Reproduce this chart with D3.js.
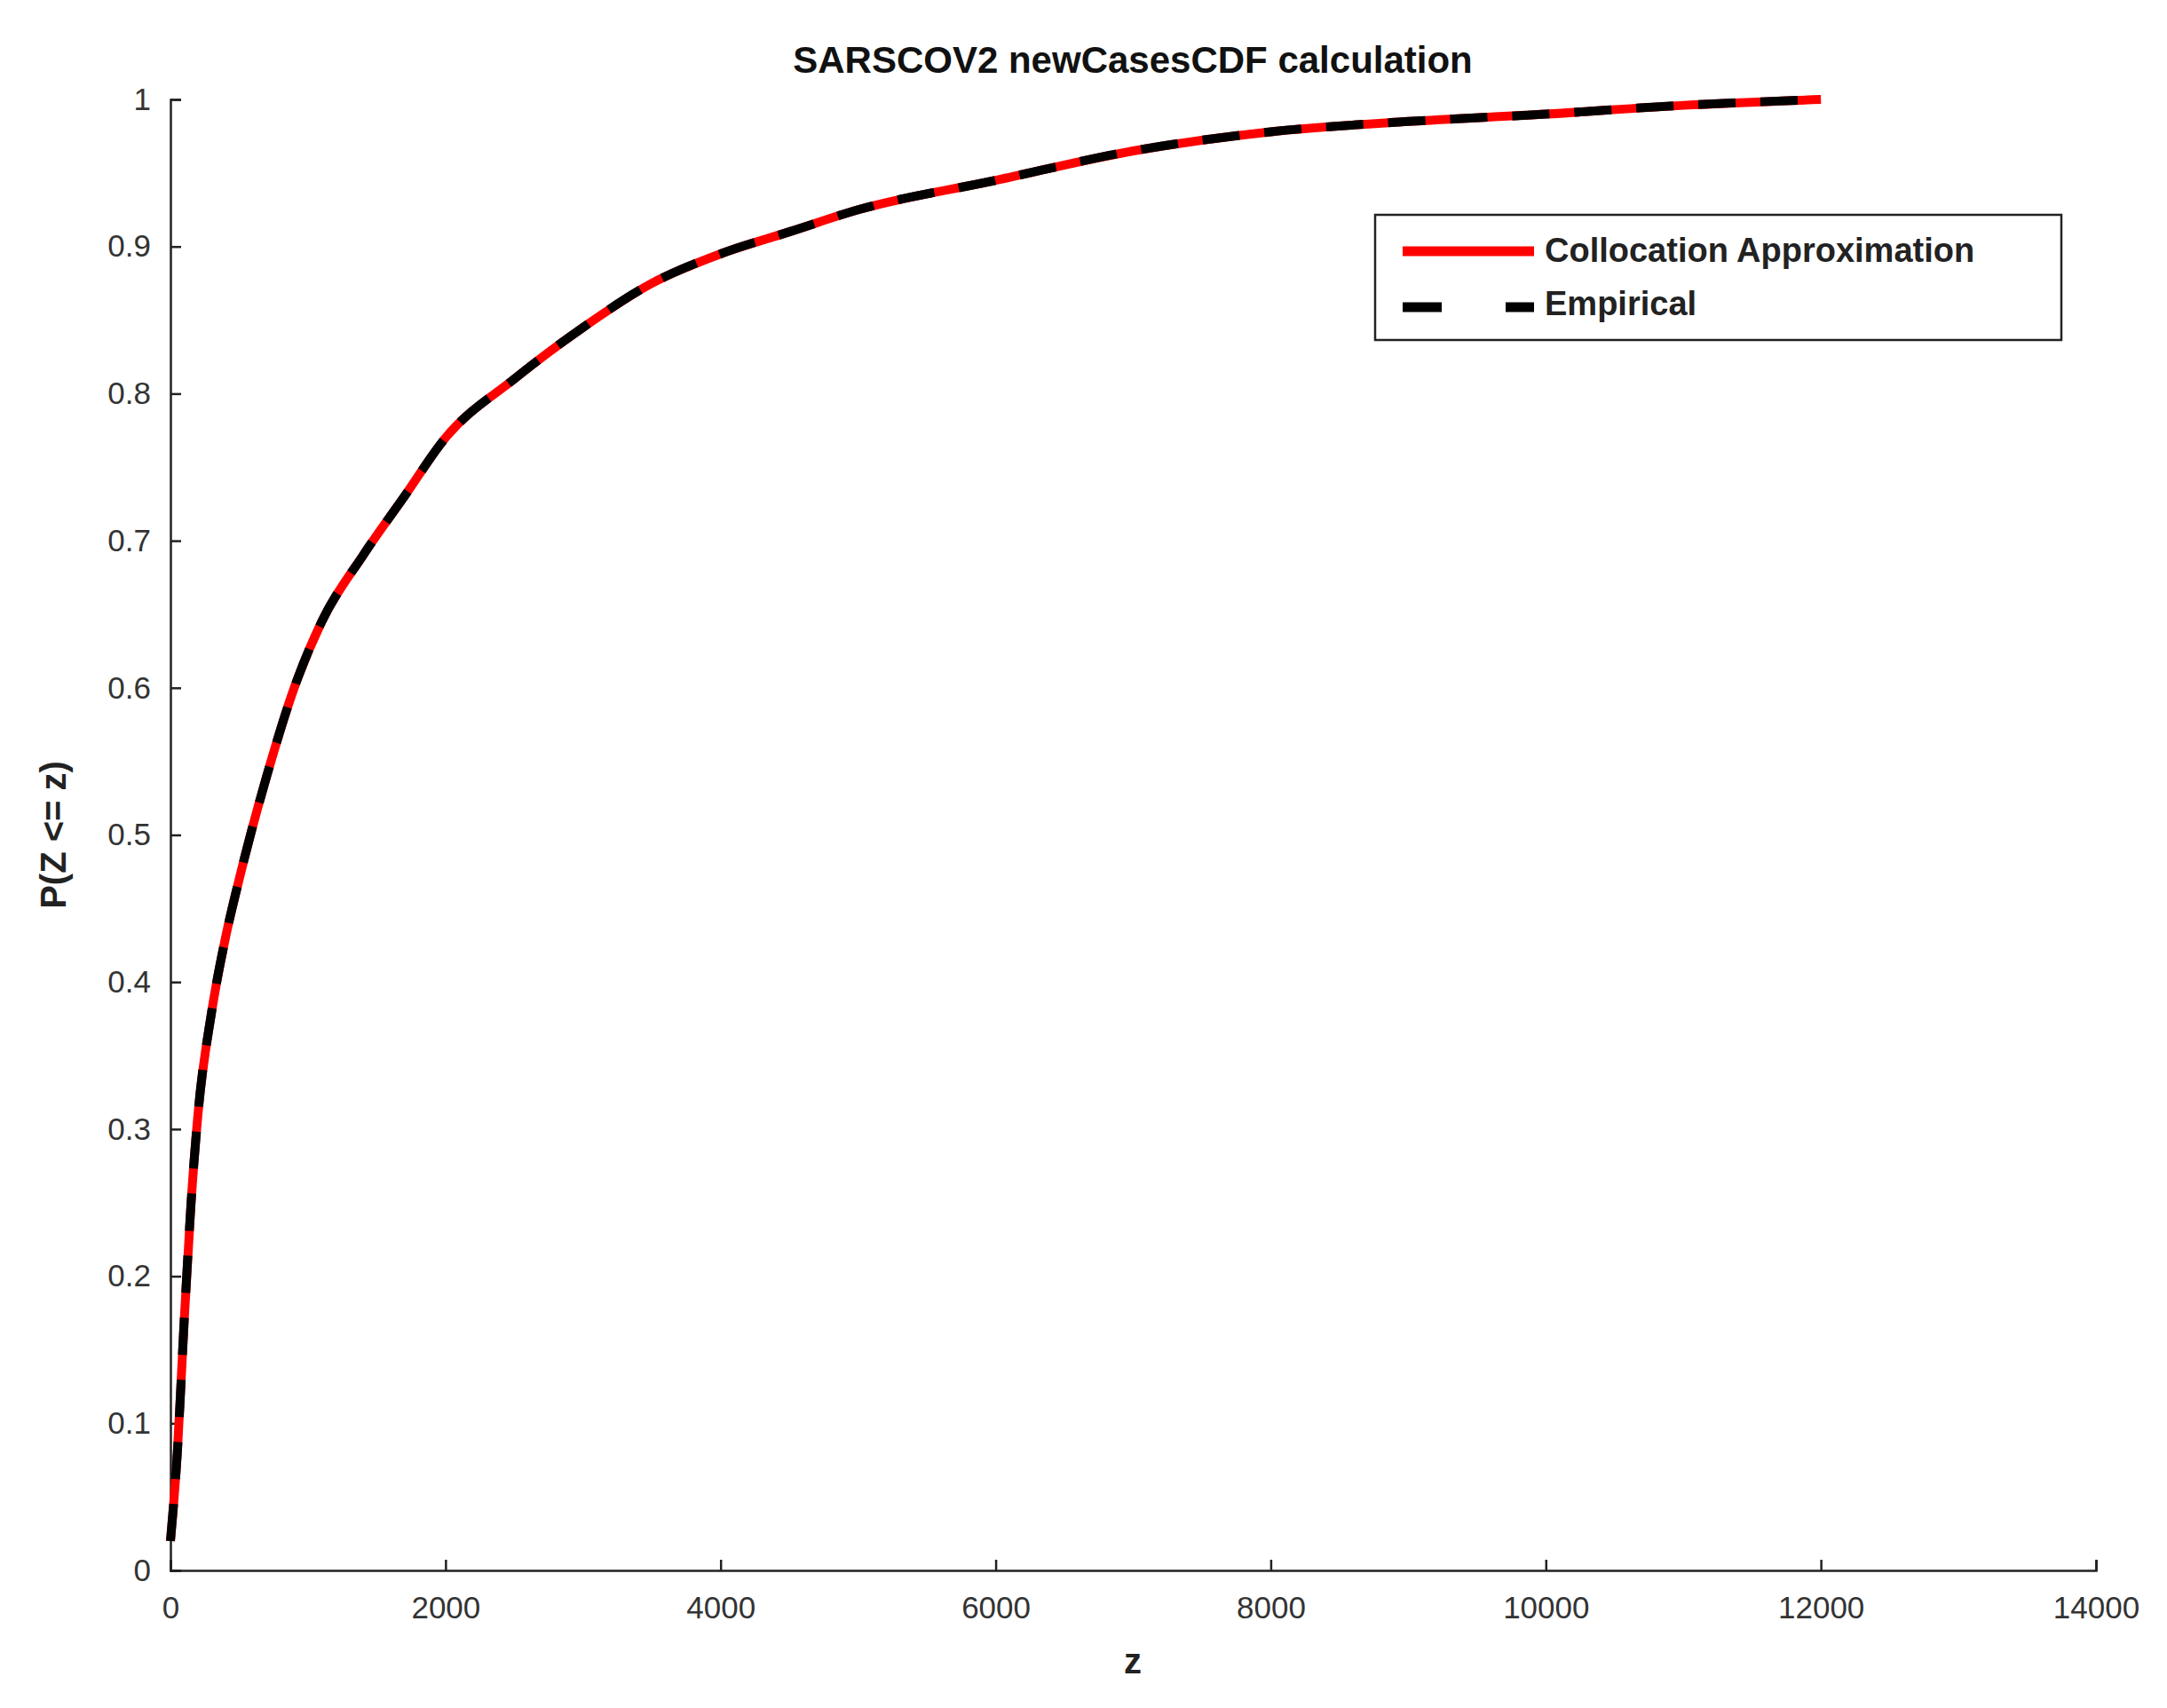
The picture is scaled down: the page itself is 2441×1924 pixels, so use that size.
<!DOCTYPE html>
<html><head><meta charset="utf-8">
<script src="https://cdn.jsdelivr.net/npm/d3@7"></script>
<style>body{margin:0;background:#fff}text{font-family:"Liberation Sans",Arial,sans-serif}</style>
</head><body><div id="chart"></div>
<script>
// CDF values
const zValues = [0, 50, 100, 150, 200, 300, 400, 500, 700, 900, 1100, 1400, 1700, 2000, 2500, 3000, 3500, 4000, 4500, 5000, 6000, 7000, 8000, 9000, 10000, 11000, 12000];
const cdfValues = [0.02, 0.08, 0.17, 0.25, 0.31, 0.38, 0.43, 0.47, 0.54, 0.6, 0.645, 0.69, 0.73, 0.77, 0.81, 0.845, 0.875, 0.895, 0.91, 0.925, 0.945, 0.965, 0.978, 0.985, 0.99, 0.996, 1.0];
const xTicks = [0, 2000, 4000, 6000, 8000, 10000, 12000, 14000];
const yTicks = [0, 0.1, 0.2, 0.3, 0.4, 0.5, 0.6, 0.7, 0.8, 0.9, 1];

const width = 2441, height = 1924;
const plotLeft = 192, plotRight = 2361, plotTop = 112, plotBottom = 1769;

const svg = d3.select("#chart").append("svg").attr("width", width).attr("height", height);

const x = d3.scaleLinear().domain([0, 14000]).range([plotLeft, plotRight]);
const y = d3.scaleLinear().domain([0, 1]).range([plotBottom, plotTop]);

// axes
const xAxis = svg.append("g").attr("transform", `translate(0,${plotBottom})`)
  .call(d3.axisBottom(x).tickValues(xTicks).tickSize(-12).tickPadding(22).tickFormat(d3.format("d")));
const yAxis = svg.append("g").attr("transform", `translate(${plotLeft},0)`)
  .call(d3.axisLeft(y).tickValues(yTicks).tickSize(-12).tickPadding(22).tickFormat(d => d));
[xAxis, yAxis].forEach(g => {
  g.select(".domain").attr("stroke", "#222").attr("stroke-width", 2.5);
  g.selectAll(".tick line").attr("stroke", "#222").attr("stroke-width", 2.5);
  g.selectAll(".tick text").attr("font-size", 35).attr("fill", "#333");
});
xAxis.selectAll(".tick text").attr("dy", "0.9em");

// curves
const data = zValues.map((z, i) => ({ z, p: cdfValues[i] }));
const line = d3.line().x(d => x(d.z)).y(d => y(d.p)).curve(d3.curveMonotoneX);
svg.append("path").datum(data).attr("d", line).attr("fill", "none")
  .attr("stroke", "#ff0000").attr("stroke-width", 10);
svg.append("path").datum(data).attr("d", line).attr("fill", "none")
  .attr("stroke", "#000").attr("stroke-width", 10).attr("stroke-dasharray", "42,28");

// title and labels
svg.append("text").attr("x", 1276).attr("y", 82).attr("text-anchor", "middle")
  .attr("font-size", 42).attr("font-weight", "bold").attr("fill", "#111")
  .text("SARSCOV2 newCasesCDF calculation");
svg.append("text").attr("x", 1276).attr("y", 1885).attr("text-anchor", "middle")
  .attr("font-size", 40).attr("font-weight", "bold").attr("fill", "#222").text("z");
svg.append("text").attr("transform", `translate(74,${(plotTop + plotBottom) / 2}) rotate(-90)`)
  .attr("text-anchor", "middle").attr("font-size", 40).attr("font-weight", "bold")
  .attr("fill", "#222").text("P(Z <= z)");

// legend
const lg = svg.append("g");
lg.append("rect").attr("x", 1549).attr("y", 242).attr("width", 773).attr("height", 141)
  .attr("fill", "#fff").attr("stroke", "#222").attr("stroke-width", 2.5);
lg.append("line").attr("x1", 1580).attr("x2", 1728).attr("y1", 283).attr("y2", 283)
  .attr("stroke", "#ff0000").attr("stroke-width", 11);
lg.append("line").attr("x1", 1580).attr("x2", 1728).attr("y1", 346).attr("y2", 346)
  .attr("stroke", "#000").attr("stroke-width", 11).attr("stroke-dasharray", "44,72");
lg.append("text").attr("x", 1740).attr("y", 295).attr("font-size", 38).attr("font-weight", "bold")
  .attr("fill", "#222").text("Collocation Approximation");
lg.append("text").attr("x", 1740).attr("y", 355).attr("font-size", 38).attr("font-weight", "bold")
  .attr("fill", "#222").text("Empirical");
</script></body></html>
